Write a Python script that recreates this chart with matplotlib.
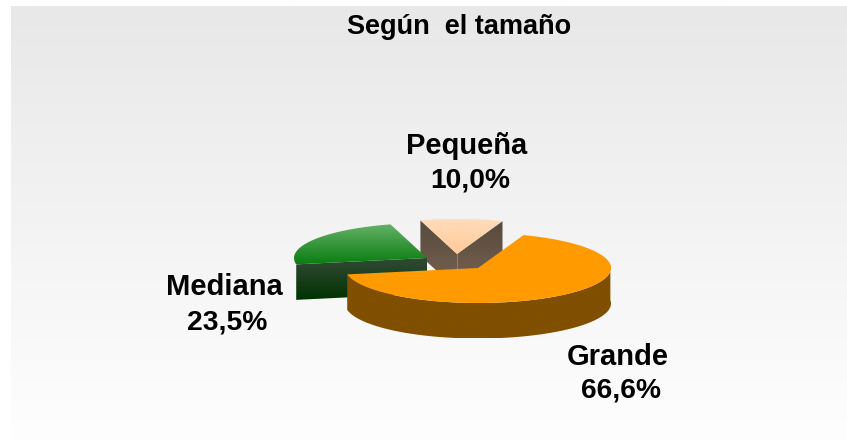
import numpy as np
import matplotlib
matplotlib.use("Agg")
import matplotlib.pyplot as plt
from matplotlib.colors import LinearSegmentedColormap
from matplotlib.patches import Polygon

title = "Según  el tamaño"
categories = ["Grande", "Mediana", "Pequeña"]
values = [66.6, 23.5, 10.0]
value_labels = ["66,6%", "23,5%", "10,0%"]

W, H = 847, 440
START = 70.0
RX, RY, DEPTH = 133.0, 35.0, 35.5
CENTERS = {"Grande": (478, 268), "Mediana": (427, 258), "Pequeña": (457, 254)}
TOPS = {"Grande": ("#ff9a00", "#ff9a00"), "Mediana": ("#66b36a", "#0c7d10"), "Pequeña": ("#ffdcbc", "#ffca96")}
WALLS = {"Grande": ("#804f00", "#804f00"), "Mediana": ("#324a36", "#003200"), "Pequeña": ("#564a3e", "#7a6350")}
NAME_POS = {"Grande": (617.5, 357), "Mediana": (224.5, 287), "Pequeña": (466.5, 146)}
VALUE_POS = {"Grande": (621, 391), "Mediana": (227, 323), "Pequeña": (470, 181)}

plt.rcParams["font.family"] = ["Liberation Sans", "DejaVu Sans"]
fig = plt.figure(figsize=(W / 100, H / 100), dpi=100)
ax = fig.add_axes([0, 0, 1, 1])
ax.set_xlim(0, W)
ax.set_ylim(H, 0)
ax.axis("off")


def gradient(poly, c0, c1, z):
    xs, ys = poly[:, 0], poly[:, 1]
    cmap = LinearSegmentedColormap.from_list("g", [c0, c1])
    im = ax.imshow(np.linspace(0, 1, 256)[:, None], cmap=cmap, aspect="auto",
                   extent=(xs.min(), xs.max(), ys.max(), ys.min()), zorder=z,
                   interpolation="bilinear")
    patch = Polygon(poly, closed=True, transform=ax.transData, fc="none", ec="none")
    ax.add_patch(patch)
    im.set_clip_path(patch)
    ax.set_xlim(0, W)
    ax.set_ylim(H, 0)


bg = np.array([[11, 6], [W, 6], [W, H], [11, H]], float)
gradient(bg, "#e8e8e8", "#fefefe", 0)

# slices go clockwise from START, in value order
total = sum(values)
angle = START
spans = {}
for name, v in zip(categories, values):
    a0 = angle
    a1 = angle - 360.0 * v / total
    spans[name] = (a0, a1)
    angle = a1


def arc(center, a0, a1, n=120):
    t = np.radians(np.linspace(a0, a1, n))
    return np.c_[center[0] + RX * np.cos(t), center[1] - RY * np.sin(t)]


ZORDER = {"Pequeña": 1, "Mediana": 3, "Grande": 5}
for name in categories:
    c = CENTERS[name]
    a0, a1 = spans[name]
    rim = arc(c, a0, a1)
    tip = np.array(c, float)
    z = ZORDER[name]
    down = np.array([0, DEPTH])
    if name == "Pequeña":
        for p in (rim[0], rim[-1]):
            wall = np.array([tip, p, p + down, tip + down])
            gradient(wall, *WALLS[name], z)
        ax.plot([tip[0], tip[0]], [tip[1], tip[1] + DEPTH], color="#8f8070", lw=0.8, zorder=z + 0.2)
    elif name == "Mediana":
        low = rim[-1] if rim[-1][1] > rim[0][1] else rim[0]
        wall = np.array([tip, low, low + down, tip + down])
        gradient(wall, *WALLS[name], z)
    else:
        front = rim[(rim[:, 1] >= c[1] - 0.5) | (rim[:, 0] > c[0] + RX - 1)]
        wall = np.vstack([front, (front + down)[::-1]])
        gradient(wall, *WALLS[name], z)
    top = np.vstack([tip, rim])
    gradient(top, *TOPS[name], z + 0.5)

ax.text(459.5, 27.5, title, ha="center", va="center", fontsize=19.5, fontweight="bold", color="black", zorder=10)
for name, lab in zip(categories, value_labels):
    ax.text(*NAME_POS[name], name, ha="center", va="center", fontsize=21, fontweight="bold",
            color="black", zorder=10)
    ax.text(*VALUE_POS[name], lab, ha="center", va="center", fontsize=20.3, fontweight="bold",
            color="black", zorder=10)

fig.savefig("out.png", dpi=100, facecolor="white")
